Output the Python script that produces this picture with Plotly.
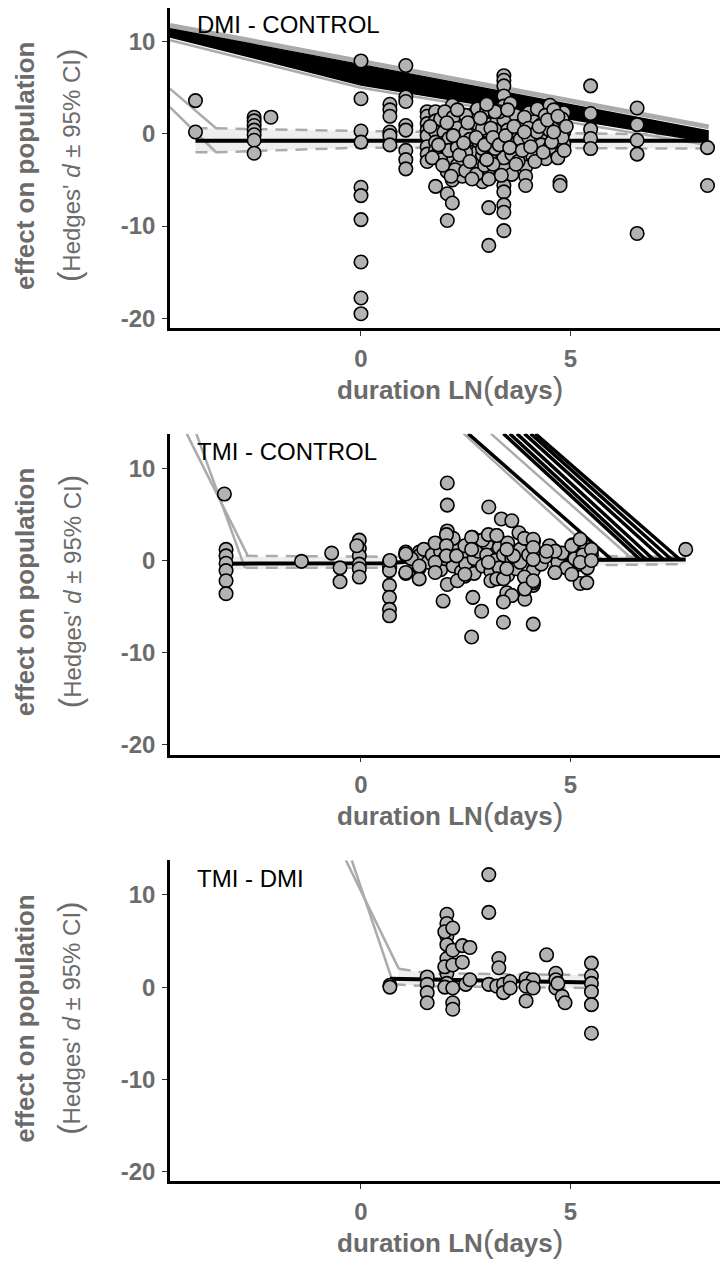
import plotly.graph_objects as go

# ---------------- data ----------------
panel_labels = ["DMI - CONTROL", "TMI - CONTROL", "TMI - DMI"]
x_ticks = [0, 5]
x_ticktext = ["0", "5"]
y_ticks = [-20, -10, 0, 10]
y_ticktext = ["-20", "-10", "0", "10"]

# Panel 1 : DMI - CONTROL (duration ln(days), Hedges' d)
p1_x = [-3.95, -3.95,
        -2.55, -2.55, -2.55, -2.55, -2.55, -2.55, -2.55, -2.15,
        0, 0, 0, 0, 0, 0, 0, 0, 0, 0,
        0.69, 0.69, 0.69, 0.69, 0.69, 0.69,
        1.07, 1.07, 1.07, 1.07, 1.07, 1.07, 1.07, 1.07,
        1.58, 1.58, 1.58, 1.58, 1.58, 1.58, 1.58, 1.58,
        1.78, 1.78, 1.78, 1.78, 1.78, 1.78, 1.78,
        1.98, 1.98, 2.06, 2.06, 2.06, 2.18, 2.18, 2.18, 2.18, 2.18,
        2.42, 2.42, 2.42, 2.42, 2.58, 2.62, 2.62, 2.70, 2.70, 2.70, 2.70, 2.78, 2.78,
        2.90, 2.90, 3.05, 3.05, 3.05, 3.05, 3.05, 3.05, 3.05, 3.05, 3.05,
        3.25, 3.25,
        3.41, 3.41, 3.41, 3.41, 3.41, 3.41, 3.41, 3.41, 3.41, 3.41, 3.41, 3.41, 3.41, 3.41, 3.41, 3.41, 3.41,
        3.57, 3.73, 3.73, 3.73,
        3.93, 3.93, 3.93, 3.93, 4.01, 4.13, 4.21, 4.13, 4.25, 4.41, 4.41,
        4.51, 4.65, 4.65, 4.65, 4.65, 4.75, 4.75, 4.84, 4.84, 4.84,
        5.48, 5.48, 5.48, 5.48, 5.48,
        6.59, 6.59, 6.59, 6.59, 6.59,
        8.27, 8.27,
        1.9, 1.9, 2.0, 2.1, 2.1, 2.2, 2.3, 2.3, 2.3, 2.5, 2.5, 2.5, 2.6, 2.8, 2.8, 2.9, 2.9, 3.0, 3.1, 3.2, 3.2,
        3.3, 3.5, 3.5, 3.6, 3.7, 3.8, 3.8, 3.9, 4.0, 4.0, 4.1, 4.2, 4.3, 4.3, 4.4, 4.5, 4.5, 4.6, 4.7, 4.8, 4.8,
        2.25, 2.5, 2.75, 2.95, 3.15, 3.6, 3.75,
        1.65, 1.7, 1.85, 1.95, 2.05, 2.15, 2.2, 2.3, 2.35, 2.45, 2.55, 2.6, 2.65, 2.75, 2.85, 2.95, 3.0, 3.1, 3.15, 3.2,
        3.3, 3.35, 3.45, 3.5, 3.55, 3.65, 3.7, 3.85, 3.9, 4.05, 4.15, 4.25, 4.35, 4.45, 4.55, 4.6, 4.7, 4.85, 4.9, 3.0]
p1_y = [3.6, 0.2,
        1.8, 1.4, 0.9, 0.4, -0.1, -0.7, -2.1, 1.8,
        7.9, 3.8, 0.3, -0.9, -5.8, -6.7, -9.3, -13.9, -17.8, -19.5,
        3.2, 2.6, 1.9, 0.2, -0.2, -1.2,
        7.4, 4.0, 3.5, 0.9, 0.4, -1.8, -2.8, -3.8,
        2.4, 1.9, 1.1, 0.4, -0.2, -1.4, -2.2, -3.0,
        2.4, 1.4, 0.2, -0.9, -1.8, -2.4, -5.7,
        0.2, -1.0, -4.1, -6.5, -9.4, 3.1, 0.9, -5.0, -7.5, -2.6,
        -2.7, -4.6, -0.4, 1.6, -3.8, 0.9, -1.2, 2.2, 0.2, -1.3, -3.2, 2.7, -2.0,
        -2.3, -5.2, 2.0, 0.2, -2.3, -3.8, -4.9, -8.0, -12.1, -1.0, 1.0,
        -0.9, 1.4,
        6.3, 5.8, 5.2, 4.1, 2.2, 0.9, -0.5, -1.8, -3.6, -5.6, -6.3, -7.7, -8.5, -10.5, 1.5, -2.6, 3.0,
        3.3, 1.3, 0.2, -1.2,
        -3.1, -3.6, -4.6, -5.6, 2.3, 1.3, 2.7, -0.9, -1.8, -2.7, -0.2,
        3.1, 1.4, 0.9, -0.5, -2.0, -5.2, -5.6, 2.3, 0.2, -1.1,
        5.2, 2.2, 0.5, -0.5, -1.6,
        2.8, 1.0, -0.7, -2.2, -10.8,
        -1.5, -5.6,
        1.6, -2.8, 2.4, -0.5, -1.8, 1.8, 0.6, -1.5, -3.4, 0.2, 2.0, -2.0, -0.6, 1.0, -0.8, 0.6, -1.6, 2.6, -2.9, 0.4, -1.6,
        2.4, 0.4, -0.9, -2.2, 2.0, -0.6, 0.9, 1.8, -0.4, 0.6, -2.4, 0.2, 1.0, -1.2, 2.0, 0.4, -1.5, 2.6, -2.6, 1.6, -0.4,
        -3.9, -4.0, -4.4, -3.4, -3.3, -4.4, -3.0,
        0.8, -2.6, -1.2, -3.4, 1.2, -4.6, -0.2, 2.6, -2.3, -1.0, 1.2, -3.0, -4.9, -0.4, 1.7, -1.2, -2.8, 0.6, -0.4, 2.4,
        -1.2, -4.5, -0.2, 2.6, -1.5, 0.8, -3.3, -1.8, 0.2, -1.4, -3.0, 0.8, -2.0, 1.5, -0.9, 0.2, 1.9, -1.8, 0.8, 3.2]

# Panel 2 : TMI - CONTROL
p2_x = [-3.26, -3.22, -3.22, -3.22, -3.22, -3.22, -3.22,
        -1.42, -0.70, -0.50, -0.50,
        -0.04, -0.04, -0.04, -0.04, -0.04, -0.04, -0.1,
        0.68, 0.68, 0.68, 0.68, 0.68, 0.68, 0.68,
        1.07, 1.07, 1.07, 1.39, 1.39, 1.39, 1.39,
        1.8, 1.8, 1.96, 2.06, 2.06, 2.06, 2.06,
        2.32, 2.48, 2.66, 2.67, 2.64, 2.88, 3.04, 3.05, 3.24, 3.35, 3.4, 3.4,
        3.6, 3.6, 3.77, 3.91, 3.91, 4.11, 4.11, 4.11, 4.11, 4.12, 4.12, 4.12,
        4.63, 4.63, 5.03, 5.05, 5.23, 5.23, 5.23, 5.23, 5.36, 5.5, 7.75,
        1.2, 1.5, 1.6, 1.7, 1.9, 1.9, 2.0, 2.1, 2.2, 2.3, 2.4, 2.5, 2.5, 2.6, 2.7, 2.7, 2.8, 2.9, 3.0, 3.0, 3.1, 3.2, 3.3, 3.3,
        3.4, 3.5, 3.5, 3.6, 3.7, 3.8, 3.8, 3.9, 4.0, 4.3, 4.4, 4.5, 4.7, 4.8, 4.9, 5.1, 5.3, 5.4, 2.2, 2.9, 3.9, 3.1, 2.3,
        0.69, 1.07, 1.07, 1.39, 1.77, 1.77, 1.77, 2.04, 2.04, 2.04, 2.28, 2.48, 2.48, 2.64, 2.64,
        3.04, 3.24, 3.04, 3.24, 3.40, 3.48, 3.60, 3.64, 3.48, 3.48, 3.91, 3.40,
        4.11, 4.11, 4.11, 4.11, 4.63, 4.63, 4.43, 5.03, 5.03, 5.23, 5.23, 5.39, 5.5, 5.5]
p2_y = [7.2, 1.2, 0.5, -0.3, -1.1, -2.2, -3.6,
        -0.1, 0.8, -0.8, -2.3,
        2.2, 1.3, 0.5, -0.4, -0.9, -1.8, 1.6,
        -0.1, -0.6, -1.1, -2.7, -4.0, -5.3, -6.0,
        0.9, 0.6, -1.4, 0.9, 0.5, -0.8, -2.0,
        1.8, -0.4, -4.4, 8.4, 6.0, 3.2, -2.6,
        0.3, -1.7, 2.5, -4.0, -8.3, -5.5, -0.2, 5.8, 2.7, 4.5, -4.4, -6.7,
        4.3, -3.8, 3.0, -3.1, -4.2, 1.2, -1.1, -2.7, -6.9, 2.1, 1.0, -2.4,
        1.05, -1.3, -1.3, 1.7, 2.1, 1.8, -0.4, -2.5, 1.1, 0.7, 1.2,
        0.2, 1.2, -0.2, 0.6, 1.0, -1.0, 0.2, 1.6, -0.6, 1.2, -1.2, 0.8, -0.4, 1.6, 0.2, -1.4, 1.0, -0.6, 1.8, 0.6, -1.2, 0.0, 1.4, -0.8,
        0.6, -1.6, 1.9, 0.2, -0.9, 1.2, -0.2, -1.8, 0.6, -0.4, 0.4, 1.6, -0.2, 0.8, -0.8, 0.2, 0.6, -0.8, 2.4, 2.2, 2.4, -2.2, -2.2,
        0.0, 0.7, -1.3, -0.6, 1.9, -0.2, -1.3, 2.8, 1.6, 0.5, 0.5, -1.5, 1.6, 2.5, 1.2,
        2.8, 2.7, -0.2, -2.0, -2.0, -3.5, -3.8, 0.5, -0.9, 1.2, -3.1, -4.5,
        2.3, 1.4, 0.1, -2.2, 1.0, -1.3, 1.0, 1.6, -1.5, 2.3, -0.2, -2.4, 1.2, 0.0]

# Panel 3 : TMI - DMI
p3_x = [0.69, 0.69, 1.58, 1.58, 1.58, 1.58,
        2.05, 2.05, 2.05, 2.05, 2.05, 2.05, 2.05, 2.0, 2.0, 2.0,
        2.19, 2.19, 2.19, 2.19, 2.19, 2.19,
        2.42, 2.6, 2.42, 2.5, 2.6,
        3.05, 3.05, 3.29, 3.29, 3.05, 3.24, 3.4, 3.4, 3.56, 3.56,
        3.94, 4.11, 3.94, 4.11, 3.94, 4.43,
        4.65, 4.65, 4.65, 4.8, 4.87, 4.7,
        5.5, 5.5, 5.5, 5.5, 5.5, 5.5]
p3_y = [0.2, 0.0, 1.1, 0.3, -0.6, -1.7,
        7.9, 6.9, 5.5, 4.6, 3.1, 1.5, 0.4, 6.0, 2.2, 0.0,
        6.4, 4.0, 2.4, -0.1, -1.7, -2.4,
        4.5, 4.3, 2.7, 0.3, 0.8,
        12.2, 8.1, 3.1, 2.1, 0.3, 0.1, 0.3, -0.6, 0.6, -0.1,
        0.9, 0.8, 0.1, -0.1, -1.5, 3.5,
        1.5, 0.8, -0.1, -1.0, -1.7, 0.4,
        2.6, 1.2, 0.4, -0.5, -1.9, -5.0]

# model fits, panel 1
p1_fit_x = [-3.95, 8.27]
p1_fit_y = [-0.75, -0.75]
p1_ci_x = [-3.95, 0, 8.27]
p1_ci_up = [0.6, 0.3, -0.1]
p1_ci_lo = [-2.0, -1.5, -1.6]
p1_cilead_x = [-4.56, -3.46]
p1_cilead_up = [4.9, 0.6]
p1_cilead_lo = [2.9, -2.0]
p1_band_x = [-4.56, 0, 8.3]
p1_band_up = [11.4, 7.5, 0.3]
p1_band_lo = [10.5, 5.3, -0.9]
p1_gray_up_x = [-4.56, 8.3]
p1_gray_up_y = [11.75, 0.75]
p1_gray_lo_x = [-4.56, 0, 8.3]
p1_gray_lo_y = [10.15, 5.0, -1.25]

# model fits, panel 2
p2_fit_x = [-3.22, 0.68, 1.4, 5.7, 7.75]
p2_fit_y = [-0.35, -0.3, 0.0, 0.1, 0.1]
p2_ci_x = [-2.75, 0.68, 5.7, 7.75]
p2_ci_up = [0.5, 0.4, 0.5, 0.35]
p2_ci_lo = [-0.8, -0.8, -0.5, -0.4]
p2_lead_top_x = [-4.16, -3.93]
p2_lead_bot_x = [-2.70, -2.77]
p2_lead_bot_y = [0.5, -0.8]
p2_fan_top_x = [2.56, 3.40, 3.55, 3.72, 3.90, 4.05, 4.16]
p2_fan_bot_x = [5.98, 6.66, 6.80, 6.98, 7.22, 7.41, 7.61]
p2_fan_gray_top_x = [2.45, 3.10]
p2_fan_gray_bot_x = [5.75, 6.49]

# model fits, panel 3
p3_fit_x = [0.69, 5.5]
p3_fit_y = [0.9, 0.5]
p3_ci_x = [0.9, 1.6, 5.5]
p3_ci_up = [2.0, 1.5, 1.3]
p3_ci_lo = [0.3, 0.1, -0.1]
p3_lead_top_x = [-0.36, -0.22]
p3_lead_bot_x = [0.9, 0.78]
p3_lead_bot_y = [2.0, 0.3]

# ---------------- layout helpers ----------------
# the page body adds an 8px margin, so the figure is 8px smaller and
# every reference pixel position is shifted by 8px
OFF = 8
W, H = 728 - OFF, 1264 - OFF
LEFT = 170
tops = [8, 435, 863]
bots = [329, 757, 1185]
X_RANGE = [-4.558, 8.759]
Y_RANGES = [[-21.05, 13.64], [-21.05, 13.75], [-21.05, 13.75]]
Y_TOP = 13.75

GRAY_TXT = "#6b6b6b"
PT_FILL = "#b3b3b3"
LINE_GRAY = "#ababab"
RIB = "#eeeeee"
DASH = "12px,8px"
FONT = "Liberation Sans, Arial, sans-serif"


def fx(px):
    return min(1.0, max(0.0, (px - OFF) / W))


def fy(py):
    return min(1.0, max(0.0, 1 - (py - OFF) / H))


fig = go.Figure()


def ax(i):
    return ("x" if i == 1 else f"x{i}"), ("y" if i == 1 else f"y{i}")


def line(i, x, y, color, width, dash="solid"):
    xa, ya = ax(i)
    fig.add_trace(go.Scatter(x=x, y=y, mode="lines", xaxis=xa, yaxis=ya,
                             line=dict(color=color, width=width, dash=dash),
                             hoverinfo="skip", showlegend=False))


def ribbon(i, x, up, lo, color):
    xa, ya = ax(i)
    fig.add_trace(go.Scatter(x=x, y=up, mode="lines", xaxis=xa, yaxis=ya,
                             line=dict(width=0, color=color), showlegend=False, hoverinfo="skip"))
    fig.add_trace(go.Scatter(x=x, y=lo, mode="lines", xaxis=xa, yaxis=ya, fill="tonexty",
                             fillcolor=color, line=dict(width=0, color=color),
                             showlegend=False, hoverinfo="skip"))


def points(i, x, y):
    xa, ya = ax(i)
    fig.add_trace(go.Scatter(x=x, y=y, mode="markers", xaxis=xa, yaxis=ya,
                             marker=dict(size=13.5, color=PT_FILL,
                                         line=dict(color="black", width=1.6)),
                             showlegend=False))


# ---- panel 1 ----
ribbon(1, p1_ci_x, p1_ci_up, p1_ci_lo, RIB)
line(1, p1_ci_x[:1] + [-3.46] + p1_ci_x[1:], [0.6] + p1_ci_up, LINE_GRAY, 2.5, DASH)
line(1, p1_ci_x[:1] + [-3.46] + p1_ci_x[1:], [-2.0] + p1_ci_lo, LINE_GRAY, 2.5, DASH)
line(1, p1_cilead_x, p1_cilead_up, LINE_GRAY, 2.5)
line(1, p1_cilead_x, p1_cilead_lo, LINE_GRAY, 2.5)
line(1, p1_gray_up_x, p1_gray_up_y, LINE_GRAY, 5)
line(1, p1_gray_lo_x, p1_gray_lo_y, LINE_GRAY, 2.5)
xa, ya = ax(1)
fig.add_trace(go.Scatter(x=p1_band_x, y=p1_band_up, mode="lines", xaxis=xa, yaxis=ya,
                         line=dict(color="black", width=1.5), showlegend=False, hoverinfo="skip"))
fig.add_trace(go.Scatter(x=p1_band_x, y=p1_band_lo, mode="lines", xaxis=xa, yaxis=ya,
                         fill="tonexty", fillcolor="black",
                         line=dict(color="black", width=1.5), showlegend=False, hoverinfo="skip"))
line(1, p1_fit_x, p1_fit_y, "black", 4)
points(1, p1_x, p1_y)

# ---- panel 2 ----
ribbon(2, [p2_fit_x[0]] + p2_ci_x[1:], [0.4] + p2_ci_up[1:], [-1.0] + p2_ci_lo[1:], RIB)
line(2, p2_ci_x, p2_ci_up, LINE_GRAY, 2.5, DASH)
line(2, p2_ci_x, p2_ci_lo, LINE_GRAY, 2.5, DASH)
for k in range(len(p2_lead_top_x)):
    line(2, [p2_lead_top_x[k], p2_lead_bot_x[k]], [Y_TOP, p2_lead_bot_y[k]], LINE_GRAY, 2.5)
for k in range(len(p2_fan_gray_top_x)):
    line(2, [p2_fan_gray_top_x[k], p2_fan_gray_bot_x[k]], [Y_TOP, 0.1], LINE_GRAY, 2.5)
for k in range(len(p2_fan_top_x)):
    line(2, [p2_fan_top_x[k], p2_fan_bot_x[k]], [Y_TOP, 0.1], "black", 3.5)
line(2, p2_fit_x, p2_fit_y, "black", 4)
points(2, p2_x, p2_y)

# ---- panel 3 ----
ribbon(3, p3_ci_x, p3_ci_up, p3_ci_lo, RIB)
line(3, p3_ci_x, p3_ci_up, LINE_GRAY, 2.5, DASH)
line(3, [p3_lead_bot_x[1]] + p3_ci_x[1:], [p3_lead_bot_y[1]] + p3_ci_lo[1:], LINE_GRAY, 2.5, DASH)
for k in range(len(p3_lead_top_x)):
    line(3, [p3_lead_top_x[k], p3_lead_bot_x[k]], [Y_TOP, p3_lead_bot_y[k]], LINE_GRAY, 2.5)
line(3, p3_fit_x, p3_fit_y, "black", 4)
points(3, p3_x, p3_y)

# ---------------- axes ----------------
tickfont = dict(family=FONT, size=24, color=GRAY_TXT, weight="bold")
layout = dict(width=W, height=H, margin=dict(l=0, r=0, t=0, b=0),
              plot_bgcolor="white", paper_bgcolor="white", showlegend=False)
annotations = []
for i in range(1, 4):
    xs = "xaxis" if i == 1 else f"xaxis{i}"
    ys = "yaxis" if i == 1 else f"yaxis{i}"
    xa, ya = ax(i)
    layout[xs] = dict(domain=[fx(LEFT), 1], range=X_RANGE, anchor=ya,
                      tickvals=x_ticks, ticktext=x_ticktext, ticks="outside", ticklen=5, tickwidth=1,
                      tickcolor="#333333", showline=True, linecolor="black", linewidth=2.5,
                      showgrid=False, zeroline=False, tickfont=tickfont, ticklabelstandoff=2)
    layout[ys] = dict(domain=[fy(bots[i - 1]), fy(tops[i - 1])], range=Y_RANGES[i - 1], anchor=xa,
                      tickvals=y_ticks, ticktext=y_ticktext, ticks="outside", ticklen=5, tickwidth=1,
                      tickcolor="#333333", showline=True, linecolor="black", linewidth=2.5,
                      showgrid=False, zeroline=False, tickfont=tickfont, ticklabelstandoff=2)
    mid = (tops[i - 1] + bots[i - 1]) / 2
    annotations.append(dict(text="<b>effect on population</b>", x=fx(25), y=fy(mid - 2),
                            xref="paper", yref="paper", textangle=-90, showarrow=False,
                            xanchor="center", yanchor="middle",
                            font=dict(family=FONT, size=26, color=GRAY_TXT)))
    annotations.append(dict(text="<span style='font-size:31px'>(</span>Hedges' <i>d</i> ± 95% CI<span style='font-size:31px'>)</span>",
                            x=fx(70), y=fy(mid - 2),
                            xref="paper", yref="paper", textangle=-90, showarrow=False,
                            xanchor="center", yanchor="middle",
                            font=dict(family=FONT, size=24, color=GRAY_TXT)))
    annotations.append(dict(text="<b>duration LN</b><span style='font-size:32px'>(</span><b>days</b><span style='font-size:32px'>)</span>",
                            x=fx(450), y=fy(bots[i - 1] + 60),
                            xref="paper", yref="paper", showarrow=False,
                            xanchor="center", yanchor="middle",
                            font=dict(family=FONT, size=26, color=GRAY_TXT)))
    label_y = [25, 453, 881][i - 1]
    annotations.append(dict(text=panel_labels[i - 1], x=fx(195), y=fy(label_y),
                            xref="paper", yref="paper", showarrow=False,
                            xanchor="left", yanchor="middle",
                            font=dict(family=FONT, size=24, color="black")))
layout["annotations"] = annotations
fig.update_layout(**layout)
fig.write_html("out.html")
